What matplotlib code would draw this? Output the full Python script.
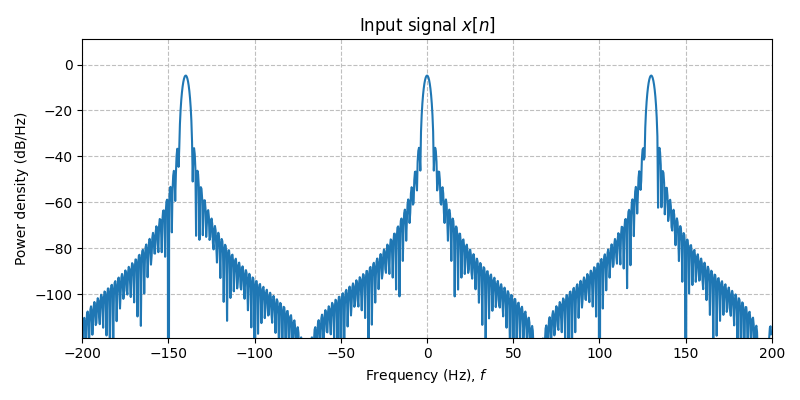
import numpy as np
import matplotlib
matplotlib.use("Agg")
import matplotlib.pyplot as plt

# Signal parameters
fs = 400.0                      # sampling rate (Hz) -> axis spans -fs/2..fs/2
n_samples = 200                 # signal length
n_fft = 1024                    # FFT length (zero padded)
tone_freqs = [-140.0, 0.0, 130.0]
tone_amps = [1.0, 1.0, 1.0]

x_ticks = [-200, -150, -100, -50, 0, 50, 100, 150, 200]
y_ticks = [0, -20, -40, -60, -80, -100]

t = np.arange(n_samples) / fs
x = np.zeros(n_samples, dtype=complex)
for f0, a in zip(tone_freqs, tone_amps):
    x += a * np.exp(2j * np.pi * f0 * t)

w = np.hanning(n_samples + 1)[:-1]
X = np.fft.fftshift(np.fft.fft(x * w, n_fft))
freqs = np.fft.fftshift(np.fft.fftfreq(n_fft, 1 / fs))
psd = np.abs(X) ** 2 / (fs * np.sum(w ** 2))
psd_db = 10 * np.log10(np.maximum(psd, 1e-30))

fig, ax = plt.subplots(figsize=(8, 4), dpi=100)
ax.plot(freqs, psd_db, color="#1f77b4", lw=1.5)
ax.set_xlim(-200, 200)
ax.set_ylim(-119, 11)
ax.set_xticks(x_ticks)
ax.set_yticks(y_ticks)
ax.grid(True, ls="--", color="0.75")
ax.set_title("Input signal $x[n]$")
ax.set_xlabel("Frequency (Hz), $f$")
ax.set_ylabel("Power density (dB/Hz)")
fig.tight_layout()
fig.savefig("out.png", dpi=100)
